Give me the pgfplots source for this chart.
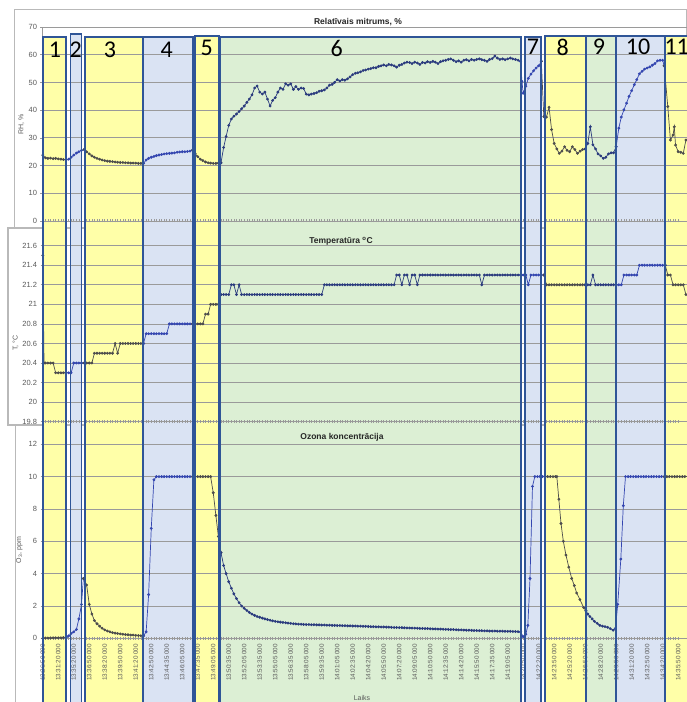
\documentclass[border=0pt]{standalone}
\usepackage{pgfplots}
\pgfplotsset{compat=1.18}
\usepackage{fontspec}
\setmainfont{Liberation Sans}
\newfontfamily\numfont{Carlito}
\definecolor{gridc}{HTML}{9A9A9A}
\definecolor{tickc}{HTML}{595959}
\definecolor{cY}{HTML}{4D4D4D}
\definecolor{cB}{HTML}{3446B0}
\definecolor{cG}{HTML}{2B3B7E}
\definecolor{fY}{HTML}{FFFFA8}
\definecolor{fB}{HTML}{DAE3F3}
\definecolor{fG}{HTML}{DCEFD4}
\definecolor{bord}{HTML}{2F5597}
\pgfplotsset{
  panel/.style={
    scale only axis, width=645pt, anchor=south west,
    xmin=-0.05, xmax=41.57,
    axis x line*=bottom, axis y line*=left,
    axis line style={draw=gridc, line width=0.8pt},
    ymajorgrids, grid style={draw=gridc, line width=0.8pt},
    xtick={0,...,41}, minor x tick num=5,
    tick style={draw=gridc, line width=0.6pt},
    major tick length=3pt, minor tick length=3pt,
    tick align=center,
    yticklabel style={font=\fontsize{7.5}{8}\selectfont, text=tickc},
    /pgf/number format/assume math mode=true,
    every axis plot/.append style={line width=0.7pt, mark=*, mark size=1.05pt},
    ylabel style={font=\fontsize{7}{8}\selectfont, text=tickc, anchor=center},
  },
}
\begin{document}
\begin{tikzpicture}
\begin{scope}[x=1pt,y=1pt]
\fill[white] (0,0) rectangle (687,702);
\draw[gray!55, line width=1pt] (14,692) rectangle (686.5,474);
\draw[gray!55, line width=1.5pt] (8,474) rectangle (686.5,277);
\draw[gray!55, line width=1pt] (15,276) -- (15,0);
% region fills
\fill[fY] (43,665) rectangle (66,0);
\fill[fB] (70.5,668) rectangle (81.5,0);
\fill[fY] (85,665) rectangle (143,0);
\fill[fB] (143,665) rectangle (193,0);
\fill[fY] (195,666) rectangle (219,0);
\fill[fG] (220,665) rectangle (521,0);
\fill[fB] (525,665) rectangle (541,0);
\fill[fY] (545,666) rectangle (586,0);
\fill[fG] (586,666) rectangle (616,0);
\fill[fB] (616,666) rectangle (665,0);
\fill[fY] (665,666) rectangle (687,0);
\end{scope}

% ---------- RH ----------
\begin{axis}[panel, at={(42pt,481pt)}, height=194pt, ymin=0, ymax=70,
  ytick={0,10,...,70}, xticklabels={},
  ylabel={RH, \%}, ylabel style={at={(axis description cs:-0.032,0.5)}}]
\addplot[cY] coordinates {(0,23.8)(0.17,22.8)(0.33,22.6)(0.5,22.7)(0.67,22.5)(0.83,22.6)(1,22.4)(1.17,22.3)(1.33,22.2)(1.5,22.1)};
\addplot[cB] coordinates {(1.5,22.1)(1.67,22.3)(1.83,23.0)(2,23.8)(2.17,24.5)(2.33,25.0)(2.5,25.5)(2.67,25.8)};
\addplot[cY] coordinates {(2.67,25.8)(2.83,25.0)(3,24.2)(3.17,23.5)(3.33,23.0)(3.5,22.6)(3.67,22.3)(3.83,22.0)(4,21.8)(4.17,21.6)(4.33,21.5)(4.5,21.4)(4.67,21.3)(4.83,21.2)(5,21.1)(5.17,21.1)(5.33,21.0)(5.5,21.0)(5.67,20.9)(5.83,20.9)(6,20.9)(6.17,20.8)(6.33,20.8)(6.5,20.8)};
\addplot[cB] coordinates {(6.5,20.8)(6.67,22.0)(6.83,22.6)(7,23.0)(7.17,23.3)(7.33,23.6)(7.5,23.8)(7.67,24.0)(7.83,24.2)(8,24.3)(8.17,24.4)(8.33,24.5)(8.5,24.6)(8.67,24.8)(8.83,24.9)(9,25.0)(9.17,25.0)(9.33,25.1)(9.5,25.2)(9.67,25.6)};
\addplot[cY] coordinates {(9.67,25.6)(9.83,24.3)(10,23.2)(10.17,22.3)(10.33,21.8)(10.5,21.3)(10.67,21.0)(10.83,20.9)(11,20.8)(11.17,20.8)(11.33,20.9)(11.5,21.0)};
\addplot[cG] coordinates {(11.5,21.0)(11.67,26.5)(11.83,30.5)(12,34.5)(12.17,36.8)(12.33,37.8)(12.5,38.6)(12.67,39.5)(12.83,40.5)(13,41.5)(13.17,42.8)(13.33,44.0)(13.5,45.5)(13.67,48.0)(13.83,48.7)(14,46.5)(14.17,45.8)(14.33,46.5)(14.5,44.0)(14.67,41.5)(14.83,43.5)(15,44.5)(15.17,46.5)(15.33,48.0)(15.5,47.5)(15.67,49.5)(15.83,49.0)(16,49.5)(16.17,47.5)(16.33,48.5)(16.5,47.5)(16.67,48.0)(16.83,47.8)(17,45.8)(17.17,45.5)(17.33,45.8)(17.5,46.0)(17.67,46.3)(17.83,46.8)(18,47.0)(18.17,47.3)(18.33,48.0)(18.5,49.0)(18.67,49.3)(18.83,50.0)(19,51.0)(19.17,50.5)(19.33,51.0)(19.5,50.8)(19.67,51.3)(19.83,52.0)(20,52.8)(20.17,53.3)(20.33,53.5)(20.5,53.8)(20.67,54.3)(20.83,54.5)(21,54.8)(21.17,55.0)(21.33,55.3)(21.5,55.3)(21.67,55.8)(21.83,56.0)(22,56.3)(22.17,56.0)(22.33,56.5)(22.5,56.3)(22.67,56.0)(22.83,55.5)(23,56.2)(23.17,56.5)(23.33,57.0)(23.5,57.3)(23.67,57.2)(23.83,56.8)(24,57.3)(24.17,57.0)(24.33,56.5)(24.5,57.2)(24.67,57.0)(24.83,57.5)(25,57.2)(25.17,57.6)(25.33,57.3)(25.5,56.8)(25.67,57.5)(25.83,57.8)(26,58.0)(26.17,58.3)(26.33,58.5)(26.5,58.0)(26.67,57.5)(26.83,57.8)(27,57.3)(27.17,58.0)(27.33,58.2)(27.5,57.8)(27.67,58.3)(27.83,58.0)(28,58.3)(28.17,58.5)(28.33,58.2)(28.5,58.0)(28.67,57.6)(28.83,58.3)(29,58.6)(29.17,59.5)(29.33,58.8)(29.5,58.3)(29.67,58.5)(29.83,58.2)(30,58.5)(30.17,58.8)(30.33,58.5)(30.5,58.3)(30.67,58.0)(30.83,57.6)};
\addplot[cB] coordinates {(30.83,57.6)(30.92,50.4)(31,46.1)(31.17,48.6)(31.33,51.5)(31.5,53.0)(31.67,54.2)(31.83,55.2)(32,56.0)(32.17,57.6)};
\addplot[cY] coordinates {(32.17,57.6)(32.33,37.7)(32.5,37.5)(32.67,41.0)(32.83,33.0)(33,28.0)(33.17,26.0)(33.33,24.4)(33.5,25.2)(33.67,26.8)(33.83,25.5)(34,25.0)(34.17,26.8)(34.33,25.8)(34.5,24.4)(34.67,25.2)(34.83,25.8)(35,26.0)};
\addplot[cG] coordinates {(35,26.0)(35.17,28.0)(35.33,34.0)(35.5,27.5)(35.67,26.0)(35.83,24.2)(36,23.5)(36.17,22.6)(36.33,23.0)(36.5,24.2)(36.67,24.6)(36.83,24.6)(37,26.8)};
\addplot[cB] coordinates {(37,26.8)(37.17,33.5)(37.33,37.5)(37.5,40.1)(37.67,42.5)(37.83,45.0)(38,47.0)(38.17,49.2)(38.33,51.0)(38.5,53.1)(38.67,54.0)(38.83,54.8)(39,55.2)(39.17,55.6)(39.33,56.2)(39.5,56.8)(39.67,57.8)(39.83,58.0)(40,58.0)(40.1,56.0)};
\addplot[cY] coordinates {(40.1,56.0)(40.33,41.3)(40.5,29.2)(40.67,31.0)(40.75,34.0)(40.83,27.4)(41,25.0)(41.17,24.8)(41.33,24.4)(41.5,29.2)(41.67,30.0)};
\end{axis}

% ---------- Temperature ----------
\begin{axis}[panel, at={(42pt,280.3pt)}, height=190.7pt, ymin=19.8, ymax=21.75,
  ytick={19.8,20.0,20.2,20.4,20.6,20.8,21.0,21.2,21.4,21.6},
  yticklabels={19.8,20,20.2,20.4,20.6,20.8,21,21.2,21.4,21.6},
  xticklabels={},
  ylabel={T, °C}, ylabel style={at={(axis description cs:-0.041,0.413)}}]
\addplot[cY] coordinates {(0,21.5)(0.08,20.4)(0.17,20.4)(0.33,20.4)(0.5,20.4)(0.67,20.4)(0.83,20.3)(1,20.3)(1.17,20.3)(1.33,20.3)(1.5,20.3)};
\addplot[cB] coordinates {(1.5,20.3)(1.67,20.3)(1.83,20.3)(2,20.4)(2.17,20.4)(2.33,20.4)(2.5,20.4)(2.67,20.4)};
\addplot[cY] coordinates {(2.67,20.4)(2.83,20.4)(3,20.4)(3.17,20.4)(3.33,20.5)(3.5,20.5)(3.67,20.5)(3.83,20.5)(4,20.5)(4.17,20.5)(4.33,20.5)(4.5,20.5)(4.67,20.6)(4.83,20.5)(5,20.6)(5.17,20.6)(5.33,20.6)(5.5,20.6)(5.67,20.6)(5.83,20.6)(6,20.6)(6.17,20.6)(6.33,20.6)(6.5,20.6)};
\addplot[cB] coordinates {(6.5,20.6)(6.67,20.7)(6.83,20.7)(7,20.7)(7.17,20.7)(7.33,20.7)(7.5,20.7)(7.67,20.7)(7.83,20.7)(8,20.7)(8.17,20.8)(8.33,20.8)(8.5,20.8)(8.67,20.8)(8.83,20.8)(9,20.8)(9.17,20.8)(9.33,20.8)(9.5,20.8)(9.67,20.8)};
\addplot[cY] coordinates {(9.67,20.8)(9.83,20.8)(10,20.8)(10.17,20.8)(10.33,20.8)(10.5,20.9)(10.67,20.9)(10.83,21.0)(11,21.0)(11.17,21.0)(11.33,21.0)(11.5,21.1)};
\addplot[cG] coordinates {(11.5,21.1)(11.67,21.1)(11.83,21.1)(12,21.1)(12.17,21.2)(12.33,21.2)(12.5,21.1)(12.67,21.2)(12.83,21.1)(13,21.1)(13.17,21.1)(13.33,21.1)(13.5,21.1)(13.67,21.1)(13.83,21.1)(14,21.1)(14.17,21.1)(14.33,21.1)(14.5,21.1)(14.67,21.1)(14.83,21.1)(15,21.1)(15.17,21.1)(15.33,21.1)(15.5,21.1)(15.67,21.1)(15.83,21.1)(16,21.1)(16.17,21.1)(16.33,21.1)(16.5,21.1)(16.67,21.1)(16.83,21.1)(17,21.1)(17.17,21.1)(17.33,21.1)(17.5,21.1)(17.67,21.1)(17.83,21.1)(18,21.1)(18.17,21.2)(18.33,21.2)(18.5,21.2)(18.67,21.2)(18.83,21.2)(19,21.2)(19.17,21.2)(19.33,21.2)(19.5,21.2)(19.67,21.2)(19.83,21.2)(20,21.2)(20.17,21.2)(20.33,21.2)(20.5,21.2)(20.67,21.2)(20.83,21.2)(21,21.2)(21.17,21.2)(21.33,21.2)(21.5,21.2)(21.67,21.2)(21.83,21.2)(22,21.2)(22.17,21.2)(22.33,21.2)(22.5,21.2)(22.67,21.2)(22.83,21.3)(23,21.3)(23.17,21.2)(23.33,21.3)(23.5,21.3)(23.67,21.2)(23.83,21.3)(24,21.3)(24.17,21.2)(24.33,21.3)(24.5,21.3)(24.67,21.3)(24.83,21.3)(25,21.3)(25.17,21.3)(25.33,21.3)(25.5,21.3)(25.67,21.3)(25.83,21.3)(26,21.3)(26.17,21.3)(26.33,21.3)(26.5,21.3)(26.67,21.3)(26.83,21.3)(27,21.3)(27.17,21.3)(27.33,21.3)(27.5,21.3)(27.67,21.3)(27.83,21.3)(28,21.3)(28.17,21.3)(28.33,21.2)(28.5,21.3)(28.67,21.3)(28.83,21.3)(29,21.3)(29.17,21.3)(29.33,21.3)(29.5,21.3)(29.67,21.3)(29.83,21.3)(30,21.3)(30.17,21.3)(30.33,21.3)(30.5,21.3)(30.67,21.3)(30.83,21.3)};
\addplot[cB] coordinates {(30.83,21.3)(31,21.3)(31.17,21.3)(31.33,21.2)(31.5,21.3)(31.67,21.3)(31.83,21.3)(32,21.3)(32.17,21.3)(32.33,21.3)};
\addplot[cY] coordinates {(32.33,21.3)(32.5,21.2)(32.67,21.2)(32.83,21.2)(33,21.2)(33.17,21.2)(33.33,21.2)(33.5,21.2)(33.67,21.2)(33.83,21.2)(34,21.2)(34.17,21.2)(34.33,21.2)(34.5,21.2)(34.67,21.2)(34.83,21.2)(35,21.2)};
\addplot[cG] coordinates {(35,21.2)(35.17,21.2)(35.33,21.2)(35.5,21.3)(35.67,21.2)(35.83,21.2)(36,21.2)(36.17,21.2)(36.33,21.2)(36.5,21.2)(36.67,21.2)(36.83,21.2)(37,21.2)};
\addplot[cB] coordinates {(37,21.2)(37.17,21.2)(37.33,21.2)(37.5,21.3)(37.67,21.3)(37.83,21.3)(38,21.3)(38.17,21.3)(38.33,21.3)(38.5,21.4)(38.67,21.4)(38.83,21.4)(39,21.4)(39.17,21.4)(39.33,21.4)(39.5,21.4)(39.67,21.4)(39.83,21.4)(40,21.4)(40.17,21.4)};
\addplot[cY] coordinates {(40.17,21.4)(40.33,21.3)(40.5,21.3)(40.67,21.2)(40.83,21.2)(41,21.2)(41.17,21.2)(41.33,21.2)(41.5,21.1)(41.67,21.1)};
\end{axis}

% ---------- Ozone ----------
\begin{axis}[panel, at={(42pt,63.7pt)}, height=210.2pt, ymin=0, ymax=13,
  ytick={0,2,...,12},
  xticklabels={13:26:50 000,13:31:20 000,13:35:20 000,13:36:50 000,13:38:20 000,13:39:50 000,13:41:20 000,13:42:50 000,13:44:35 000,13:46:05 000,13:47:35 000,13:49:05 000,13:50:35 000,13:52:05 000,13:53:35 000,13:55:05 000,13:56:35 000,13:58:05 000,13:59:35 000,14:01:05 000,14:02:35 000,14:04:20 000,14:05:50 000,14:07:20 000,14:09:05 000,14:10:50 000,14:12:35 000,14:14:20 000,14:15:50 000,14:17:35 000,14:19:05 000,14:20:50 000,14:22:20 000,14:23:50 000,14:25:20 000,14:26:50 000,14:28:20 000,14:29:50 000,14:31:20 000,14:32:50 000,14:34:20 000,14:35:50 000},
  xticklabel style={rotate=90, anchor=east, font=\fontsize{6.3}{7}\selectfont, text=tickc, inner sep=1pt},
  xticklabel shift=3pt,
  xlabel={Laiks}, xlabel style={at={(axis description cs:0.496,-0.284)}, anchor=center, font=\fontsize{7}{8}\selectfont, text=tickc},
  ylabel={O\textsubscript{3}, ppm}, ylabel style={at={(axis description cs:-0.035,0.42)}}]
\addplot[cY] coordinates {(0,0)(0.17,0.02)(0.33,0.02)(0.5,0.02)(0.67,0.03)(0.83,0.03)(1,0.03)(1.17,0.03)(1.33,0.04)(1.5,0.05)};
\addplot[cB] coordinates {(1.5,0.05)(1.67,0.15)(1.83,0.3)(2,0.4)(2.17,0.55)(2.33,1.2)(2.5,2.1)(2.62,3.7)};
\addplot[cY] coordinates {(2.62,3.7)(2.83,3.3)(3,2.1)(3.17,1.5)(3.33,1.1)(3.5,0.9)(3.67,0.75)(3.83,0.62)(4,0.52)(4.17,0.45)(4.33,0.4)(4.5,0.35)(4.67,0.32)(4.83,0.3)(5,0.27)(5.17,0.25)(5.33,0.23)(5.5,0.22)(5.67,0.2)(5.83,0.2)(6,0.18)(6.17,0.17)(6.33,0.16)(6.5,0.15)};
\addplot[cB] coordinates {(6.5,0.15)(6.67,0.4)(6.83,2.7)(7,6.8)(7.17,9.8)(7.33,10)(7.5,10)(7.67,10)(7.83,10)(8,10)(8.17,10)(8.33,10)(8.5,10)(8.67,10)(8.83,10)(9,10)(9.17,10)(9.33,10)(9.5,10)(9.67,10)};
\addplot[cY] coordinates {(9.67,10)(9.83,10)(10,10)(10.17,10)(10.33,10)(10.5,10)(10.67,10)(10.83,10)(11,9.0)(11.17,7.6)(11.33,6.3)(11.5,5.3)};
\addplot[cG] coordinates {(11.5,5.3)(11.67,4.5)(11.83,4.0)(12,3.5)(12.17,3.1)(12.33,2.75)(12.5,2.45)(12.67,2.2)(12.83,2.0)(13,1.85)(13.17,1.72)(13.33,1.6)(13.5,1.5)(13.67,1.42)(13.83,1.35)(14,1.3)(14.17,1.25)(14.33,1.2)(14.5,1.16)(14.67,1.12)(14.83,1.08)(15,1.05)(15.17,1.02)(15.33,1.0)(15.5,0.98)(15.67,0.96)(15.83,0.94)(16,0.92)(16.17,0.9)(16.33,0.89)(16.5,0.88)(16.67,0.87)(16.83,0.86)(17,0.85)(17.17,0.85)(17.33,0.84)(17.5,0.84)(17.67,0.83)(17.83,0.83)(18,0.82)(18.17,0.82)(18.33,0.81)(18.5,0.81)(18.67,0.8)(18.83,0.8)(19,0.79)(19.17,0.79)(19.33,0.78)(19.5,0.78)(19.67,0.77)(19.83,0.77)(20,0.76)(20.17,0.76)(20.33,0.75)(20.5,0.75)(20.67,0.74)(20.83,0.74)(21,0.73)(21.17,0.72)(21.33,0.72)(21.5,0.71)(21.67,0.71)(21.83,0.7)(22,0.7)(22.17,0.69)(22.33,0.69)(22.5,0.68)(22.67,0.67)(22.83,0.67)(23,0.66)(23.17,0.66)(23.33,0.65)(23.5,0.64)(23.67,0.64)(23.83,0.63)(24,0.63)(24.17,0.62)(24.33,0.61)(24.5,0.61)(24.67,0.6)(24.83,0.6)(25,0.59)(25.17,0.58)(25.33,0.58)(25.5,0.57)(25.67,0.57)(25.83,0.56)(26,0.55)(26.17,0.55)(26.33,0.54)(26.5,0.54)(26.67,0.53)(26.83,0.52)(27,0.52)(27.17,0.51)(27.33,0.5)(27.5,0.5)(27.67,0.49)(27.83,0.48)(28,0.48)(28.17,0.47)(28.33,0.47)(28.5,0.46)(28.67,0.46)(28.83,0.45)(29,0.45)(29.17,0.45)(29.33,0.44)(29.5,0.44)(29.67,0.44)(29.83,0.43)(30,0.43)(30.17,0.43)(30.33,0.42)(30.5,0.42)(30.67,0.41)(30.83,0.4)};
\addplot[cB] coordinates {(30.83,0.4)(31,0.1)(31.17,0.25)(31.3,0.8)(31.44,3.7)(31.6,9.4)(31.75,10)(31.92,10)(32.08,10)(32.25,10)(32.42,10)};
\addplot[cY] coordinates {(32.42,10)(32.58,10)(32.75,10)(32.92,10)(33.08,10)(33.17,10)(33.3,8.6)(33.44,7.1)(33.59,6.0)(33.76,5.15)(33.94,4.4)(34.13,3.7)(34.3,3.26)(34.45,2.8)(34.66,2.4)(34.9,1.9)(35.05,1.7)};
\addplot[cG] coordinates {(35.05,1.7)(35.17,1.5)(35.3,1.35)(35.45,1.2)(35.6,1.05)(35.78,0.92)(35.95,0.8)(36.12,0.75)(36.28,0.72)(36.45,0.68)(36.62,0.6)(36.8,0.5)(36.95,0.6)};
\addplot[cB] coordinates {(36.95,0.6)(37.1,2.1)(37.3,4.9)(37.46,8.2)(37.6,10)(37.77,10)(37.93,10)(38.1,10)(38.27,10)(38.43,10)(38.6,10)(38.77,10)(38.93,10)(39.1,10)(39.27,10)(39.43,10)(39.6,10)(39.77,10)(39.93,10)(40.1,10)};
\addplot[cY] coordinates {(40.1,10)(40.27,10)(40.43,10)(40.6,10)(40.77,10)(40.93,10)(41.1,10)(41.27,10)(41.43,10)(41.6,10)};
\end{axis}

\begin{scope}[x=1pt,y=1pt]
% region borders
\draw[bord, line width=1.2pt] (43,665) rectangle (66,-5);
\draw[bord, line width=1.2pt] (70.5,668) rectangle (81.5,-5);
\draw[bord, line width=1.8pt] (85,665) rectangle (143,-5);
\draw[bord, line width=1.8pt] (143,665) rectangle (193,-5);
\draw[bord, line width=1.5pt] (195,666) rectangle (219,-5);
\draw[bord, line width=1.8pt] (220,665) rectangle (521,-5);
\draw[bord, line width=1.2pt] (525,665) rectangle (541,-5);
\draw[bord, line width=1.5pt] (545,666) rectangle (586,-5);
\draw[bord, line width=1.8pt] (586,666) rectangle (616,-5);
\draw[bord, line width=1.8pt] (616,666) rectangle (665,-5);
\draw[bord, line width=1.8pt] (665,666) rectangle (700,-5);
% region numbers
\begin{scope}[every node/.style={font=\numfont\fontsize{24}{24}\selectfont, inner sep=0pt}]
\node at (55,652) {1};
\node at (75.7,652) {2};
\node at (110,652) {3};
\node at (166.7,652) {4};
\node at (206.7,654.3) {5};
\node at (336.7,653.7) {6};
\node at (533,655.3) {7};
\node at (562.7,655) {8};
\node at (599,655) {9};
\node at (638,655) {10};
\node at (676.7,655) {11};
\end{scope}
% titles
\node[font=\bfseries\fontsize{8.5}{9}\selectfont, text=black!85] at (358,680) {Relatīvais mitrums, \%};
\node[font=\bfseries\fontsize{8.5}{9}\selectfont, text=black!85] at (341,461) {Temperatūra \textsuperscript{o}C};
\node[font=\bfseries\fontsize{8.5}{9}\selectfont, text=black!85] at (342,265) {Ozona koncentrācija};
\pgfresetboundingbox
\path[use as bounding box] (0,0) rectangle (687,702);
\end{scope}
\end{tikzpicture}
\end{document}
